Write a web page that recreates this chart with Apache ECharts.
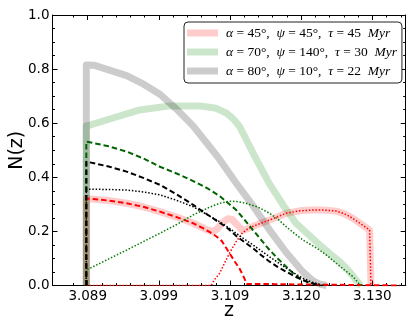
<!DOCTYPE html>
<html>
<head>
<meta charset="utf-8">
<script src="https://cdn.jsdelivr.net/npm/echarts@6/dist/echarts.min.js"></script>
<style>html,body{margin:0;padding:0;background:#fff;}#c{width:415px;height:332px;}</style>
</head>
<body>
<div id="c"></div>
<script>
// ---- axis ticks ----
const zTicks = [3.089, 3.09925, 3.1095, 3.11975, 3.130];
const zTickLabels = ['3.089', '3.099', '3.109', '3.120', '3.130'];
const zMinorTicks = [3.08695, 3.09105, 3.0931, 3.09515, 3.0972, 3.1013, 3.10335, 3.1054, 3.10745,
  3.11155, 3.1136, 3.11565, 3.1177, 3.1218, 3.12385, 3.1259, 3.12795, 3.13205, 3.1341];

// ---- legend parameters ----
const alphas = [45, 70, 80];
const psis = [45, 140, 10];
const taus = [45, 30, 22];

// ---- thick (total) curves [z, N] ----
const totalRed = [[3.0888,0],[3.0888,0.322],[3.0920,0.314],[3.0946,0.304],[3.0970,0.291],[3.0994,0.273],[3.1018,0.253],[3.1042,0.230],[3.1061,0.207],[3.1070,0.199],[3.1076,0.208],[3.1084,0.232],[3.1092,0.247],[3.1098,0.244],[3.1106,0.222],[3.1113,0.203],[3.1122,0.212],[3.1135,0.226],[3.1152,0.242],[3.1176,0.267],[3.1195,0.276],[3.1214,0.279],[3.1230,0.279],[3.1248,0.275],[3.1260,0.265],[3.1272,0.248],[3.1285,0.225],[3.1296,0.205],[3.1298,0.200],[3.1298,0]];
const totalGreen = [[3.0888,0],[3.0888,0.590],[3.0893,0.593],[3.0930,0.622],[3.0965,0.649],[3.1008,0.664],[3.1051,0.664],[3.1075,0.655],[3.1090,0.637],[3.1100,0.615],[3.1109,0.587],[3.1130,0.480],[3.1152,0.375],[3.1172,0.295],[3.1190,0.230],[3.1205,0.195],[3.1224,0.150],[3.1240,0.115],[3.1253,0.088],[3.1264,0.060],[3.1272,0.035],[3.1281,0.006],[3.1284,0]];
const totalGray = [[3.0888,0],[3.0888,0.815],[3.0900,0.814],[3.0946,0.776],[3.0970,0.745],[3.0994,0.707],[3.1018,0.652],[3.1042,0.589],[3.1066,0.512],[3.1080,0.466],[3.1104,0.378],[3.1128,0.295],[3.1152,0.205],[3.1176,0.122],[3.1200,0.050],[3.1214,0.018],[3.1224,0.005],[3.1234,0]];

// ---- component curves [z, N] ----
const redDashed = [[3.0888,0],[3.0888,0.322],[3.0920,0.314],[3.0946,0.304],[3.0970,0.291],[3.0994,0.273],[3.1018,0.253],[3.1042,0.230],[3.1056,0.212],[3.1066,0.197],[3.1075,0.182],[3.1083,0.165],[3.1094,0.120],[3.1102,0.088],[3.1109,0.061],[3.1115,0.030],[3.1119,0.006],[3.1121,0],[3.1340,0]];
const redDotted = [[3.0888,0],[3.1068,0],[3.1072,0.020],[3.1080,0.045],[3.1094,0.119],[3.1104,0.163],[3.1113,0.195],[3.1122,0.212],[3.1135,0.226],[3.1152,0.242],[3.1176,0.267],[3.1195,0.276],[3.1214,0.279],[3.1230,0.279],[3.1248,0.275],[3.1260,0.265],[3.1272,0.248],[3.1285,0.225],[3.1296,0.205],[3.1298,0.200],[3.1298,0]];
const greenDashed = [[3.0888,0],[3.0888,0.532],[3.0920,0.515],[3.0946,0.495],[3.0970,0.470],[3.0994,0.439],[3.1018,0.414],[3.1042,0.386],[3.1062,0.360],[3.1080,0.331],[3.1092,0.305],[3.1104,0.279],[3.1116,0.243],[3.1128,0.205],[3.1140,0.168],[3.1152,0.131],[3.1164,0.099],[3.1176,0.069],[3.1186,0.045],[3.1195,0.027],[3.1207,0.012],[3.1219,0.004],[3.1225,0]];
const greenDotted = [[3.0888,0],[3.0888,0.057],[3.0946,0.131],[3.0994,0.193],[3.1020,0.228],[3.1042,0.261],[3.1066,0.290],[3.1080,0.304],[3.1094,0.312],[3.1106,0.310],[3.1118,0.304],[3.1135,0.290],[3.1152,0.267],[3.1165,0.243],[3.1176,0.217],[3.1188,0.192],[3.1200,0.168],[3.1212,0.150],[3.1224,0.131],[3.1236,0.108],[3.1248,0.082],[3.1260,0.057],[3.1272,0.033],[3.1281,0.006],[3.1285,0]];
const blackDashed = [[3.0888,0],[3.0888,0.458],[3.0920,0.440],[3.0946,0.421],[3.0970,0.398],[3.0994,0.372],[3.1018,0.337],[3.1042,0.298],[3.1066,0.256],[3.1080,0.232],[3.1090,0.215],[3.1104,0.183],[3.1116,0.160],[3.1128,0.138],[3.1140,0.112],[3.1152,0.088],[3.1164,0.068],[3.1176,0.051],[3.1188,0.034],[3.1200,0.020],[3.1212,0.009],[3.1219,0.004],[3.1225,0]];
const blackDotted = [[3.0888,0],[3.0888,0.356],[3.0920,0.355],[3.0946,0.353],[3.0970,0.346],[3.0994,0.335],[3.1018,0.315],[3.1042,0.291],[3.1066,0.256],[3.1080,0.236],[3.1092,0.215],[3.1104,0.193],[3.1116,0.171],[3.1128,0.150],[3.1140,0.128],[3.1152,0.106],[3.1164,0.085],[3.1176,0.064],[3.1188,0.045],[3.1200,0.027],[3.1212,0.013],[3.1224,0.004],[3.1230,0]];

const Z_MIN = 3.08393, Z_MAX = 3.13480;

const names = alphas.map((a, i) => `α=${a}°, ψ=${psis[i]}°, τ=${taus[i]} Myr`);

const chart = echarts.init(document.getElementById('c'), null, {renderer: 'canvas'});

const axisLineStyle = {color: '#000', width: 1};
function xAx(position, ticks, len, showLine, showLabel) {
  return {
    type: 'value', position, min: Z_MIN, max: Z_MAX,
    axisLine: {show: showLine, onZero: false, lineStyle: axisLineStyle},
    axisTick: {show: true, inside: true, length: len, customValues: ticks, lineStyle: axisLineStyle},
    axisLabel: showLabel ? {
      show: true, customValues: zTicks, margin: 4, color: '#000', fontSize: 13.5,
      fontFamily: 'DejaVu Sans',
      formatter: v => { const i = zTicks.findIndex(t => Math.abs(t - v) < 1e-6); return i >= 0 ? zTickLabels[i] : ''; }
    } : {show: false},
    splitLine: {show: false},
    minorTick: {show: false}
  };
}
function yAx(position, showLabel) {
  return {
    type: 'value', position, min: 0, max: 1, interval: 0.2,
    axisLine: {show: true, onZero: false, lineStyle: axisLineStyle},
    axisTick: {show: true, inside: true, length: 5, lineStyle: axisLineStyle},
    minorTick: {show: true, splitNumber: 4, length: 2.5, lineStyle: axisLineStyle},
    axisLabel: showLabel ? {show: true, margin: 3, color: '#000', fontSize: 13.5, fontFamily: 'DejaVu Sans',
      formatter: v => v.toFixed(1)} : {show: false},
    splitLine: {show: false},
    minorSplitLine: {show: false}
  };
}

const xAxes = [xAx('bottom', zTicks, 5, true, true), xAx('bottom', zMinorTicks, 2.5, false, false),
  xAx('top', zTicks, 5, true, false), xAx('top', zMinorTicks, 2.5, false, false)];
xAxes[0].name = 'z';
xAxes[0].nameLocation = 'middle';
xAxes[0].nameGap = 16;
xAxes[0].nameMoveOverlap = false;
xAxes[0].nameTextStyle = {fontSize: 19, color: '#000', fontFamily: 'DejaVu Sans'};
const yAxes = [yAx('left', true), yAx('right', false)];
yAxes[0].name = 'N(z)';
yAxes[0].nameLocation = 'middle';
yAxes[0].nameGap = 26;
yAxes[0].nameMoveOverlap = false;
yAxes[0].nameTextStyle = {fontSize: 19, color: '#000', fontFamily: 'DejaVu Sans'};

function thick(name, data, color) {
  return {type: 'line', name, data, xAxisIndex: 0, yAxisIndex: 0, showSymbol: false, symbol: 'none',
    z: 2, itemStyle: {color}, lineStyle: {color, width: 7, join: 'round', cap: 'butt'}, animation: false};
}
function thin(data, color, dashed) {
  return {type: 'line', data, xAxisIndex: 0, yAxisIndex: 0, showSymbol: false, symbol: 'none', z: 3,
    lineStyle: {color, width: dashed ? 2 : 1.5, type: dashed ? [5.5, 3] : [1.5, 1.8]}, animation: false, silent: true};
}

const legendRich = {
  i: {fontFamily: 'Liberation Serif', fontStyle: 'italic', fontSize: 13.5, color: '#000'},
  n: {fontFamily: 'Liberation Serif', fontSize: 13.5, color: '#000'},
  p: {width: 3}
};

chart.setOption({
  backgroundColor: '#fff',
  animation: false,
  grid: {left: 52.5, right: 9.3, top: 15, bottom: 46.5, containLabel: false, outerBoundsMode: 'none'},
  xAxis: xAxes,
  yAxis: yAxes,
  legend: {
    data: names, left: 184, top: 22, orient: 'vertical', icon: 'rect',
    itemWidth: 31, itemHeight: 7, itemGap: 5,
    padding: [4, 5, 5, 3],
    backgroundColor: '#fff', borderColor: '#222', borderWidth: 1, borderRadius: 4,
    selectedMode: false,
    textStyle: {lineHeight: 14, rich: legendRich},
    formatter: name => {
      const k = names.indexOf(name);
      return `{p|}{i|α}{n| = ${alphas[k]}°,  }{i|ψ}{n| = ${psis[k]}°,  }{i|τ}{n| = ${taus[k]}  }{i|Myr}`;
    }
  },
  series: [
    thick(names[0], totalRed, 'rgba(255,0,0,0.2)'),
    thick(names[1], totalGreen, 'rgba(0,128,0,0.2)'),
    thick(names[2], totalGray, 'rgba(0,0,0,0.2)'),
    thin(redDashed, '#ff0000', true),
    thin(redDotted, '#ff0000', false),
    thin(greenDashed, '#006400', true),
    thin(greenDotted, '#007a00', false),
    thin(blackDashed, '#000000', true),
    thin(blackDotted, '#000000', false)
  ]
});
</script>
</body>
</html>
